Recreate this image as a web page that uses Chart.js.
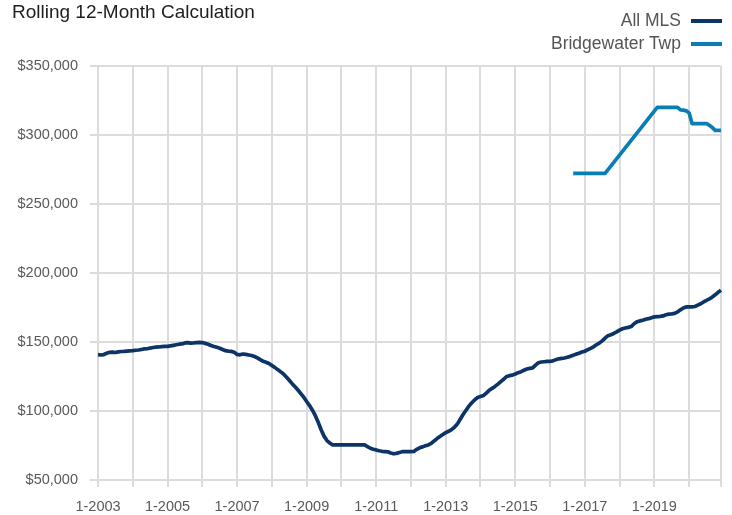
<!DOCTYPE html>
<html>
<head>
<meta charset="utf-8">
<script src="https://cdn.jsdelivr.net/npm/chart.js@4.4.0/dist/chart.umd.min.js"></script>
<style>
  html, body { margin: 0; padding: 0; background: #fff; }
  #wrap { position: relative; width: 732px; height: 515px; }
  #title { position: absolute; left: 12px; top: 2px; font: 19px "Liberation Sans", Arial, sans-serif; line-height: 19px; color: #1e1e1e; white-space: nowrap; }
  #legend { position: absolute; right: 10px; top: 9px; font: 17.5px "Liberation Sans", Arial, sans-serif; color: #555; }
  .row { display: flex; justify-content: flex-end; align-items: center; height: 23px; }
  .sw { display: inline-block; width: 31px; height: 4px; margin-left: 10px; }
  canvas { position: absolute; left: 0; top: 0; }
</style>
</head>
<body>
<div id="wrap">
  <canvas id="c" width="732" height="515"></canvas>
  <div id="title">Rolling 12-Month Calculation</div>
  <div id="legend"></div>
</div>
<script>
// ---- DATA ----
const years = [2003, 2004, 2005, 2006, 2007, 2008, 2009, 2010, 2011, 2012, 2013, 2014, 2015, 2016, 2017, 2018, 2019, 2020];
const seriesNames = ['All MLS', 'Bridgewater Twp'];
const seriesColors = ['#0c3466', '#0b7db5'];
const yTicks = [50000, 100000, 150000, 200000, 250000, 300000, 350000];

// All MLS, monthly 1-2003 .. 12-2020
const allMLS = [
  140800, 140600, 140900, 141800, 142500, 142700, 142400, 142800, 143100, 143200, 143400, 143600,
  143700, 144000, 144200, 144600, 145000, 145100, 145600, 146000, 146300, 146400, 146600, 146800,
  146800, 147200, 147600, 148000, 148400, 148600, 149300, 149500, 149200, 149300, 149500, 149700,
  149600, 149000, 148400, 147500, 146800, 146200, 145500, 144600, 143700, 143400, 143200, 142600,
  141000, 140700, 141300, 141000, 140600, 140200, 139500, 138500, 137200, 136000, 135300, 134400,
  133000, 131600, 130000, 128500, 126800, 124600, 122300, 119800, 117500, 115200, 112600, 110000,
  106900, 103900, 100600, 96600, 91800, 86400, 81800, 78600, 76800, 75400, 75400, 75400,
  75400, 75400, 75400, 75400, 75400, 75400, 75400, 75400, 75400, 74200, 73000, 72300,
  71800, 71200, 70800, 70600, 70400, 69600, 69000, 69300, 69900, 70500, 70600, 70600,
  70600, 70700, 72200, 73300, 74000, 74800, 75400, 76500, 78300, 80000, 81500, 83000,
  84300, 85300, 86500, 88200, 90500, 94000, 97500, 100500, 103500, 106000, 108000, 109800,
  110500, 111200, 113000, 115000, 116400, 117800, 119500, 121300, 123000, 125000, 125600, 126000,
  126800, 127800, 128500, 129500, 130400, 130900, 131200, 133200, 135000, 135500, 135700, 135900,
  135900, 136300, 137200, 137800, 138100, 138400, 139000, 139600, 140400, 141200, 141800, 142700,
  143300, 144400, 145400, 146500, 148000, 149200, 150800, 152800, 154600, 155300, 156200, 157300,
  158600, 159600, 160100, 160600, 161200, 163200, 164600, 165300, 165800, 166500, 166900, 167600,
  168200, 168400, 168600, 168900, 169700, 170200, 170400, 170700, 171800, 173300, 174600, 175400,
  175400, 175400, 175700, 176700, 177700, 179000, 180200, 181200, 182600, 184200, 186000, 187500
];

// Bridgewater Twp, monthly from 9-2016 .. 12-2020 (null = no value, line spans the gap)
const bridgewaterStart = '9-2016';
const bridgewater = [
  272200, 272200, 272200, 272200, 272200, 272200, 272200, 272200, 272200, 272200, 272200, 272200,
  null, null, null, null, null, null, null, null, null, null, null, null, null, null, null, null, null,
  320000, 320000, 320000, 320000, 320000, 320000, 320000, 320000,
  318200, 318000, 317500,
  316000, 308300,
  308300, 308300, 308300, 308300, 308300,
  307000, 305400, 303400, 303400, 303400
];

// ---- BUILD ----
const labels = [];
years.forEach(y => { for (let m = 1; m <= 12; m++) labels.push(m + '-' + y); });
const startIdx = labels.indexOf(bridgewaterStart);
const bwData = bridgewater.map((v, k) => ({ x: labels[startIdx + k], y: v }));

// HTML legend
const lg = document.getElementById('legend');
seriesNames.forEach((n, i) => {
  const r = document.createElement('div'); r.className = 'row';
  const t = document.createElement('span'); t.textContent = n;
  const s = document.createElement('span'); s.className = 'sw'; s.style.background = seriesColors[i];
  r.appendChild(t); r.appendChild(s); lg.appendChild(r);
});

const gridCol = '#dcdcdc';
const tickFont = { family: '"Liberation Sans", Arial, sans-serif', size: 14.5 };

new Chart(document.getElementById('c'), {
  type: 'line',
  data: {
    labels: labels,
    datasets: [
      { label: seriesNames[0], data: allMLS, borderColor: seriesColors[0], backgroundColor: seriesColors[0],
        borderWidth: 3.7, pointRadius: 0, tension: 0, borderJoinStyle: 'round', borderCapStyle: 'butt' },
      { label: seriesNames[1], data: bwData, borderColor: seriesColors[1], backgroundColor: seriesColors[1],
        borderWidth: 3.7, pointRadius: 0, tension: 0, spanGaps: true, borderJoinStyle: 'round' }
    ]
  },
  options: {
    responsive: false,
    animation: false,
    layout: { padding: { top: 66, right: 10, bottom: 0, left: 0 } },
    plugins: { legend: { display: false }, title: { display: false }, tooltip: { enabled: false } },
    scales: {
      x: {
        type: 'category',
        offset: false,
        afterFit: axis => { axis.height = 35; },
        grid: {
          color: ctx => (ctx.index % 12 === 0 || ctx.index === labels.length - 1) ? gridCol : 'rgba(0,0,0,0)',
          lineWidth: 2,
          tickLength: 7,
          drawOnChartArea: true
        },
        border: { display: false },
        ticks: {
          autoSkip: false, maxRotation: 0, minRotation: 0, padding: 11,
          color: '#595959', font: tickFont,
          callback: (v, i) => (i % 24 === 0 ? labels[i] : '')
        }
      },
      y: {
        min: 50000, max: 350000,
        afterBuildTicks: axis => { axis.ticks = yTicks.map(v => ({ value: v })); },
        afterFit: axis => { axis.width = 98; },
        grid: { color: gridCol, lineWidth: 2, tickLength: 8 },
        border: { display: false },
        ticks: {
          padding: 12, color: '#595959', font: tickFont,
          callback: v => '$' + Number(v).toLocaleString('en-US')
        }
      }
    }
  }
});
</script>
</body>
</html>
